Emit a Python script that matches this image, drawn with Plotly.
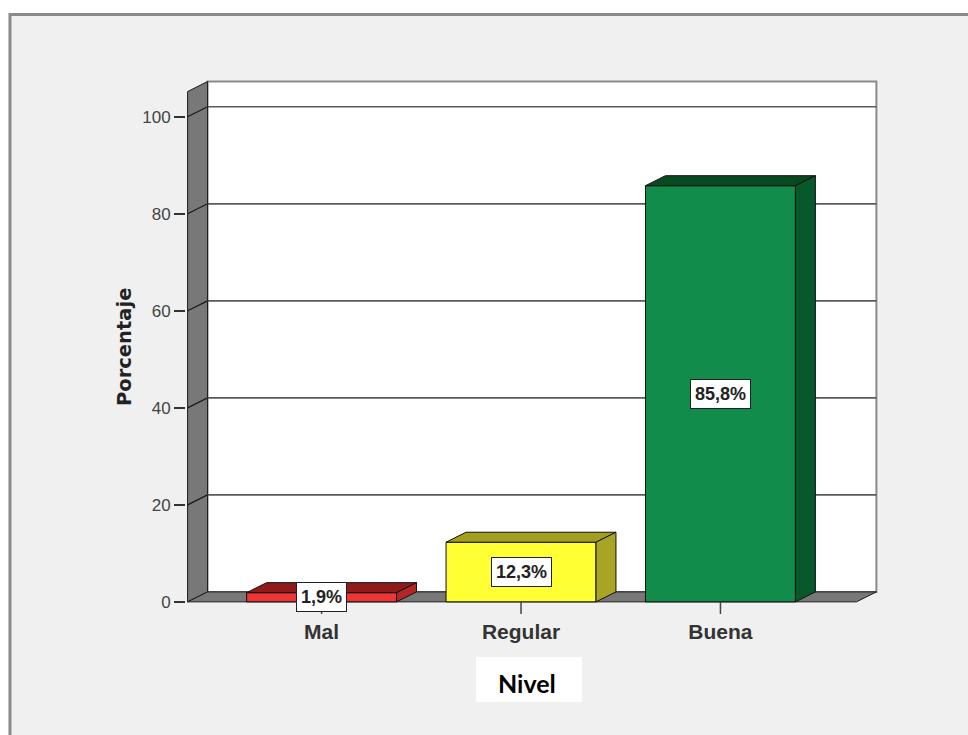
import plotly.graph_objects as go

# ---- data ----
categories = ["Mal", "Regular", "Buena"]
percentages = [1.9, 12.3, 85.8]
label_texts = ["1,9%", "12,3%", "85,8%"]
y_ticks = [0, 20, 40, 60, 80, 100]

# ---- styles ----
front_colors = ["#ee3535", "#ffff33", "#118c4a"]
top_colors = ["#8e1a1a", "#a39e1e", "#064a22"]
side_colors = ["#b42626", "#a8a424", "#07582b"]

W, H = 968, 735
ML, MT = 186, 78
XR0, XR1 = -0.68, 2.79
YR0, YR1 = -2.5, 108.0
PW, PH = 692, 536
MR = W - ML - PW
MB = H - MT - PH

BAR_W = 0.752
DX = 0.1          # depth offset in x units
DY = 2.06         # depth offset in y units
XL = -0.672       # front-left edge of the axis wall
XR = 2.782        # back-right edge of the back wall
YMAX = 105.2      # top of walls


def px(xpix):
    """screen pixel x -> paper x"""
    return (xpix - ML) / PW


def py(ypix):
    """screen pixel y -> paper y"""
    return (MT + PH - ypix) / PH


fig = go.Figure()

# front faces of bars
fig.add_trace(go.Bar(
    x=list(range(len(categories))), y=percentages, width=BAR_W,
    marker=dict(color=front_colors, line=dict(color="#111111", width=1)),
    hoverinfo="skip", showlegend=False,
))

# top and side faces of bars
for i, v in enumerate(percentages):
    l, r = i - BAR_W / 2, i + BAR_W / 2
    fig.add_trace(go.Scatter(
        x=[l, r, r + DX, l + DX, l], y=[v, v, v + DY, v + DY, v],
        fill="toself", fillcolor=top_colors[i], mode="lines",
        line=dict(color="#111111", width=1), hoverinfo="skip", showlegend=False))
    fig.add_trace(go.Scatter(
        x=[r, r + DX, r + DX, r, r], y=[0, DY, v + DY, v, 0],
        fill="toself", fillcolor=side_colors[i], mode="lines",
        line=dict(color="#111111", width=1), hoverinfo="skip", showlegend=False))
    # category tick mark under the floor
    fig.add_trace(go.Scatter(
        x=[i, i], y=[0, YR0], mode="lines",
        line=dict(color="#444444", width=1.5), hoverinfo="skip", showlegend=False))

shapes = []
# panel frame (white strips + gray border)
shapes.append(dict(type="rect", xref="paper", yref="paper",
                   x0=px(0), x1=px(W), y0=py(13), y1=py(0),
                   fillcolor="white", line=dict(width=0), layer="below"))
shapes.append(dict(type="rect", xref="paper", yref="paper",
                   x0=px(0), x1=px(8.5), y0=py(H), y1=py(0),
                   fillcolor="white", line=dict(width=0), layer="below"))
shapes.append(dict(type="line", xref="paper", yref="paper",
                   x0=px(9), x1=px(W), y0=py(14.5), y1=py(14.5),
                   line=dict(color="#8a8a8a", width=3), layer="below"))
shapes.append(dict(type="line", xref="paper", yref="paper",
                   x0=px(10), x1=px(10), y0=py(13), y1=py(H),
                   line=dict(color="#8a8a8a", width=3), layer="below"))

# back wall
shapes.append(dict(type="rect", xref="x", yref="y",
                   x0=XL + DX, x1=XR, y0=DY, y1=YMAX + DY,
                   fillcolor="white", line=dict(color="#8a8a8a", width=2), layer="below"))
# left wall
shapes.append(dict(type="path", xref="x", yref="y",
                   path=f"M {XL},0 L {XL+DX},{DY} L {XL+DX},{YMAX+DY} L {XL},{YMAX} Z",
                   fillcolor="#787878", line=dict(color="#1a1a1a", width=1), layer="below"))
# floor
shapes.append(dict(type="path", xref="x", yref="y",
                   path=f"M {XL},0 L {XR-DX},0 L {XR},{DY} L {XL+DX},{DY} Z",
                   fillcolor="#787878", line=dict(color="#1a1a1a", width=1), layer="below"))
# gridlines
for v in y_ticks[1:]:
    shapes.append(dict(type="line", xref="x", yref="y",
                       x0=XL + DX, x1=XR, y0=v + DY, y1=v + DY,
                       line=dict(color="#5a5a5a", width=1.6), layer="below"))
    shapes.append(dict(type="line", xref="x", yref="y",
                       x0=XL, x1=XL + DX, y0=v, y1=v + DY,
                       line=dict(color="#1a1a1a", width=1.2), layer="below"))

# "Nivel" white box
shapes.append(dict(type="rect", xref="paper", yref="paper",
                   x0=px(476), x1=px(582), y0=py(702), y1=py(657),
                   fillcolor="white", line=dict(width=0), layer="below"))

annotations = []
for i, (v, t) in enumerate(zip(percentages, label_texts)):
    annotations.append(dict(
        x=i, y=v / 2, xref="x", yref="y", text=t, showarrow=False,
        xanchor="center", yanchor="middle",
        font=dict(family="Liberation Sans", size=18, color="#222222", weight="bold"),
        bgcolor="white", bordercolor="#222222", borderwidth=1, borderpad=4))

annotations.append(dict(
    x=px(124), y=py(347), xref="paper", yref="paper", text="Porcentaje",
    textangle=-90, showarrow=False, xanchor="center", yanchor="middle",
    font=dict(family="DejaVu Sans", size=19.5, color="#222222", weight="bold")))

annotations.append(dict(
    x=px(527), y=py(683), xref="paper", yref="paper", text="Nivel",
    showarrow=False, xanchor="center", yanchor="middle",
    font=dict(family="Lato", size=25, color="#000000", weight="bold")))

fig.update_layout(
    width=W, height=H,
    margin=dict(l=ML, r=MR, t=MT, b=MB, pad=0),
    paper_bgcolor="#f0f0f0", plot_bgcolor="#f0f0f0",
    shapes=shapes, annotations=annotations,
    showlegend=False, bargap=0,
    xaxis=dict(range=[XR0, XR1], tickvals=list(range(len(categories))),
               ticktext=categories, showgrid=False, zeroline=False, showline=False,
               ticks="", ticklabelstandoff=3,
               tickfont=dict(family="Liberation Sans", size=21, color="#333333", weight="bold"),
               fixedrange=True),
    yaxis=dict(range=[YR0, YR1], tickvals=y_ticks, ticktext=[str(v) for v in y_ticks],
               showgrid=False, zeroline=False, showline=False,
               ticks="outside", ticklen=11, tickwidth=1.5, tickcolor="#333333",
               ticklabelstandoff=0,
               tickfont=dict(family="Liberation Sans", size=17, color="#444444"),
               fixedrange=True),
)

fig.write_html(
    "out.html",
    config={"displayModeBar": False, "staticPlot": True},
    post_script="document.body.style.margin='0';document.body.style.overflow='hidden';",
)
